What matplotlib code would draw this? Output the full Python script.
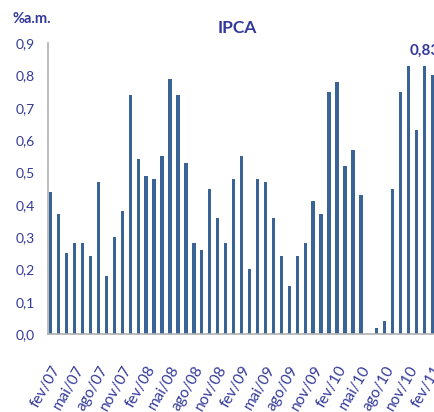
import matplotlib
matplotlib.use("Agg")
import matplotlib.pyplot as plt
from matplotlib import font_manager

# IPCA mensal, fev/07 a fev/11 (% a.m.)
meses = ["fev/07", "mar/07", "abr/07", "mai/07", "jun/07", "jul/07", "ago/07", "set/07", "out/07", "nov/07", "dez/07",
         "jan/08", "fev/08", "mar/08", "abr/08", "mai/08", "jun/08", "jul/08", "ago/08", "set/08", "out/08", "nov/08", "dez/08",
         "jan/09", "fev/09", "mar/09", "abr/09", "mai/09", "jun/09", "jul/09", "ago/09", "set/09", "out/09", "nov/09", "dez/09",
         "jan/10", "fev/10", "mar/10", "abr/10", "mai/10", "jun/10", "jul/10", "ago/10", "set/10", "out/10", "nov/10", "dez/10",
         "jan/11", "fev/11"]
ipca = [0.44, 0.37, 0.25, 0.28, 0.28, 0.24, 0.47, 0.18, 0.30, 0.38, 0.74,
        0.54, 0.49, 0.48, 0.55, 0.79, 0.74, 0.53, 0.28, 0.26, 0.45, 0.36, 0.28,
        0.48, 0.55, 0.20, 0.48, 0.47, 0.36, 0.24, 0.15, 0.24, 0.28, 0.41, 0.37,
        0.75, 0.78, 0.52, 0.57, 0.43, 0.00, 0.02, 0.04, 0.45, 0.75, 0.83, 0.63,
        0.83, 0.80]
yticks = [0.0, 0.1, 0.2, 0.3, 0.4, 0.5, 0.6, 0.7, 0.8, 0.9]
destaque = 47  # jan/11

azul = "#3a6496"
texto = "#33399a"

plt.rcParams["font.family"] = ["Lato", "DejaVu Sans"]

# fonte estreita para o titulo, se houver
nomes = set(f.name for f in font_manager.fontManager.ttflist)
if "Liberation Sans Narrow" in nomes:
    fonte_titulo = ["Liberation Sans Narrow", "DejaVu Sans"]
    tam_titulo = 15
else:
    fonte_titulo = ["Lato", "DejaVu Sans"]
    tam_titulo = 12.5

fig = plt.figure(figsize=(4.35, 4.12), dpi=100)
ax = fig.add_axes([0.1097, 0.1893, 0.892, 0.7063])

x = list(range(len(ipca)))
ax.bar(x, ipca, width=0.42, color=azul, edgecolor="none")

ax.set_ylim(0, 0.9)
ax.set_xlim(-0.38, 48.42)
ax.set_yticks(yticks)
ax.set_yticklabels([("%.1f" % v).replace(".", ",") for v in yticks], color=texto, fontsize=10)
ax.set_xticks(x[::3])
ax.set_xticklabels(meses[::3], rotation=60, ha="right", rotation_mode="anchor", color=texto, fontsize=11)
ax.tick_params(axis="both", length=0)
ax.tick_params(axis="x", pad=21)
ax.tick_params(axis="y", pad=9)

for s in ["top", "right"]:
    ax.spines[s].set_visible(False)
for s in ["left", "bottom"]:
    ax.spines[s].set_color("#b0b0b0")
    ax.spines[s].set_linewidth(1.2)

ax.text(destaque, ipca[destaque] + 0.045, ("%.2f" % ipca[destaque]).replace(".", ","),
        ha="center", va="center", color=texto, fontsize=11, fontweight="bold", clip_on=False)

fig.text(0.545, 0.932, "IPCA", ha="center", va="center", color=texto, fontsize=tam_titulo,
         fontweight="bold", family=fonte_titulo)
fig.text(0.029, 0.955, "%a.m.", ha="left", va="center", color=texto, fontsize=10.5, fontweight="bold")

fig.savefig("out.png", dpi=100)
